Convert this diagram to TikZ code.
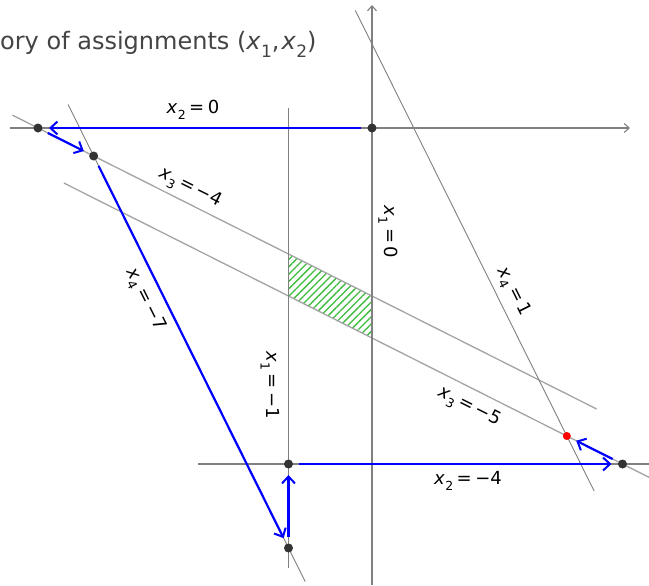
\documentclass[tikz,border=0pt]{standalone}
\usepackage{fontspec}
\setmainfont{DejaVu Sans}
\usetikzlibrary{arrows.meta,patterns.meta}
\definecolor{dotgray}{HTML}{333333}
\definecolor{axgray}{HTML}{808080}
\definecolor{cgray}{HTML}{A4A4A4}
\definecolor{hatchgreen}{HTML}{3CBC3C}
\definecolor{titlegray}{HTML}{444444}
\newcommand\vx[1]{\textit{x}\kern0.3pt\raisebox{-0.32em}{\fontsize{12.5}{13}\selectfont #1}}
\newcommand\tx[1]{\textit{x}\kern0.3pt\raisebox{-0.32em}{\fontsize{17}{18}\selectfont #1}}
\newcommand\eqs{\kern3.5pt=\kern3.5pt}
\begin{document}
\begin{tikzpicture}[x=83.5pt,y=84pt,
  axisline/.style={axgray, line width=1.1pt},
  conline/.style={cgray, line width=1.3pt},
  diagline/.style={axgray, line width=0.9pt},
  axarrow/.style={-{Straight Barb[length=5pt,width=9pt]}},
  traj/.style={blue, line width=2.2pt, -{Straight Barb[length=7pt,width=13pt,line width=2pt]}},
  pt/.style={circle, fill=dotgray, inner sep=0pt, minimum size=9pt, outer sep=6.5pt},
  redpt/.style={circle, fill=red, inner sep=0pt, minimum size=8pt, outer sep=6.5pt},
  lab/.style={font=\fontsize{18}{20}\selectfont, text=black, inner sep=0pt}
]
\fill[white] (-4.4551,1.5238) rectangle (3.3174,-5.4405);
\useasboundingbox (-4.4551,1.5238) rectangle (3.3174,-5.4405);

% title
\node[anchor=base west, inner sep=0pt, text=titlegray, font=\fontsize{24}{28}\selectfont] (title) at (-4.4551,0.929)
  {ory of assignments (\tx{1},\kern2pt\tx{2})};

% hatched feasible region
\fill[pattern={Lines[angle=45,distance=5.2pt,line width=1.3pt]}, pattern color=hatchgreen]
  (-1,-1.5) -- (0,-2) -- (0,-2.5) -- (-1,-2) -- cycle;

% constraint lines
\coordinate (x3a) at (-4.307,0.1535);
\coordinate (x3b) at (2.69,-3.345);
\draw[conline] (x3a) -- (x3b);
\coordinate (x5a) at (-3.69,-0.655);
\coordinate (x5b) at (3.3174,-4.1587);
\draw[conline] (x5a) -- (x5b);
\coordinate (x7a) at (-3.64,0.28);
\coordinate (x7b) at (-0.80,-5.40);
\draw[diagline] (x7a) -- (x7b);
\coordinate (x1a) at (-0.20,1.40);
\coordinate (x1b) at (2.66,-4.32);
\draw[diagline] (x1a) -- (x1b);
\coordinate (v1a) at (-1,0.238);
\coordinate (v1b) at (-1,-5.238);
\draw[axisline] (v1a) -- (v1b);
\coordinate (h4a) at (-2.08,-4);
\coordinate (h4b) at (3.3174,-4);
\draw[axisline] (h4a) -- (h4b);

% axes
\coordinate (xa) at (-4.335,0);
\coordinate (xb) at (3.09,0);
\draw[axisline, axarrow] (xa) -- (xb);
\coordinate (ya) at (0,-5.4405);
\coordinate (yb) at (0,1.464);
\draw[axisline, axarrow] (ya) -- (yb);

% trajectory points
\node[pt] (A) at (0,0) {};
\node[pt] (B) at (-4,0) {};
\node[pt] (C) at (-10/3,-1/3) {};
\node[pt] (D) at (-1,-5) {};
\node[pt] (E) at (-1,-4) {};
\node[pt] (F) at (3,-4) {};
\node[redpt] (G) at (7/3,-11/3) {};

% trajectory
\draw[traj] (A) -- (B);
\draw[traj] (B) -- (C);
\draw[traj] (C) -- (D);
\draw[traj] (D) -- (E);
\draw[traj] (E) -- (F);
\draw[traj] (F) -- (G);

% labels
\node[lab] (l1) at (-2.144,0.214) {\vx{2}\eqs0};
\node[lab, rotate=-26.57] (l2) at (-2.180,-0.714) {\vx{3}\eqs−4};
\node[lab, rotate=-90] (l3) at (0.192,-1.238) {\vx{1}\eqs0};
\node[lab, rotate=-63.43] (l4) at (1.689,-1.952) {\vx{4}\eqs1};
\node[lab, rotate=-63.43] (l5) at (-2.719,-2.048) {\vx{4}\eqs−7};
\node[lab, rotate=-90] (l6) at (-1.222,-3.060) {\vx{1}\eqs−1};
\node[lab, rotate=-26.57] (l7) at (1.162,-3.321) {\vx{3}\eqs−5};
\node[lab] (l8) at (1.150,-4.202) {\vx{2}\eqs−4};
\end{tikzpicture}
\end{document}
